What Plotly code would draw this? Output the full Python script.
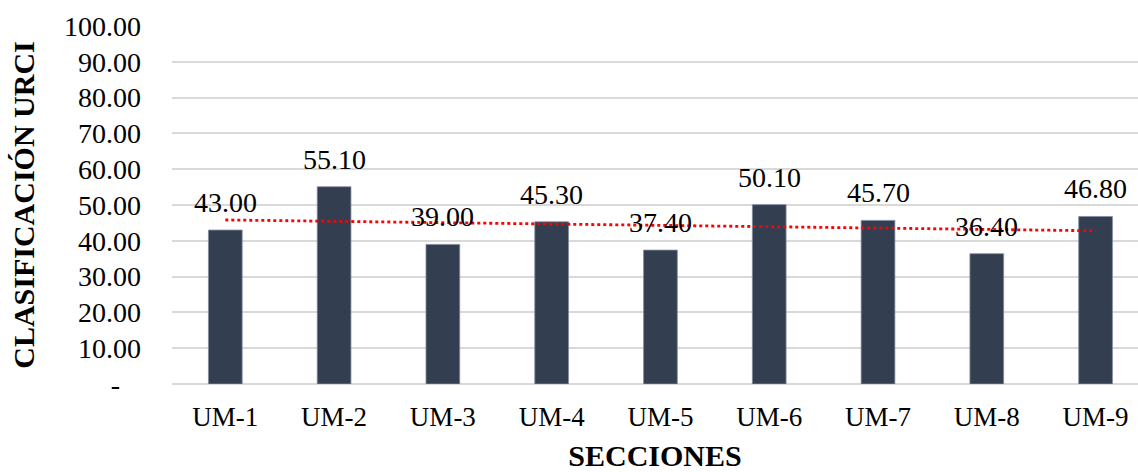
import numpy as np
import plotly.graph_objects as go

categories = ["UM-1", "UM-2", "UM-3", "UM-4", "UM-5", "UM-6", "UM-7", "UM-8", "UM-9"]
values = [43.00, 55.10, 39.00, 45.30, 37.40, 50.10, 45.70, 36.40, 46.80]
y_tickvals = [0, 10, 20, 30, 40, 50, 60, 70, 80, 90, 100]
y_ticktext = ["-\u00a0\u00a0\u00a0"] + [f"{v:.2f}" for v in y_tickvals[1:]]

FONT = "Liberation Serif, Times New Roman, serif"

xi = np.arange(len(values))
slope, intercept = np.polyfit(xi, values, 1)
trend = slope * xi + intercept

fig = go.Figure()
fig.add_trace(go.Bar(
    x=list(xi), y=values, width=0.31,
    marker=dict(color="#333F50", line=dict(color="#7f8ba0", width=0.8)),
    showlegend=False,
))
fig.add_trace(go.Scatter(
    x=list(xi), y=list(trend), mode="lines",
    line=dict(color="#ff0000", width=2.8, dash="dot"),
    showlegend=False, hoverinfo="skip",
))
for i, v in zip(xi, values):
    fig.add_annotation(
        x=int(i), y=v, text=f"{v:.2f}", showarrow=False,
        yanchor="bottom", yshift=10,
        font=dict(family=FONT, size=28, color="#000000"),
    )

fig.update_layout(
    width=1138, height=472,
    margin=dict(l=172, r=0, t=26, b=88),
    paper_bgcolor="white", plot_bgcolor="white",
    font=dict(family=FONT, color="#000000"),
)
fig.update_xaxes(
    tickmode="array", tickvals=list(xi), ticktext=categories,
    range=[-0.49, 8.39],
    tickfont=dict(family=FONT, size=27, color="#000000"),
    showgrid=False, zeroline=False, showline=False, ticks="",
    ticklabelstandoff=14,
    title=dict(text="<b>SECCIONES</b>", font=dict(family=FONT, size=30, color="#000000"), standoff=20),
    automargin=False,
)
fig.update_yaxes(
    range=[0, 100], tickmode="array", tickvals=y_tickvals, ticktext=y_ticktext,
    tickfont=dict(family=FONT, size=28, color="#000000"),
    showgrid=True, gridcolor="#d9d9d9", gridwidth=1.5,
    zeroline=True, zerolinecolor="#d9d9d9", zerolinewidth=1.5,
    showline=False, ticks="", ticklabelstandoff=30,
    title=dict(text="<b>CLASIFICACIÓN URCI</b>", font=dict(family=FONT, size=30, color="#000000"), standoff=20),
    automargin=False,
)

fig.write_html("out.html", config={"displayModeBar": False},
               post_script="document.body.style.margin='0';document.body.style.padding='0';")
